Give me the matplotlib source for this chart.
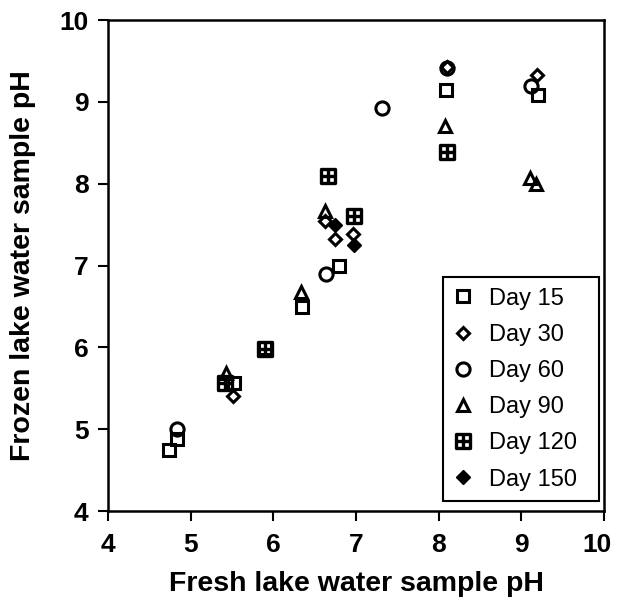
import matplotlib
matplotlib.use("Agg")
import matplotlib.pyplot as plt
from matplotlib.path import Path
from matplotlib.transforms import ScaledTranslation

plt.rcParams['font.family'] = ['Liberation Sans', 'DejaVu Sans']

# fresh pH (x) vs frozen pH (y)
day15_x = [4.74, 4.84, 5.53, 5.90, 6.35, 6.79, 8.09, 9.20]
day15_y = [4.75, 4.88, 5.56, 5.99, 6.49, 6.99, 9.15, 9.08]

day30_x = [5.51, 6.63, 6.74, 6.96, 8.10, 9.19]
day30_y = [5.41, 7.55, 7.33, 7.39, 9.43, 9.33]

day60_x = [4.83, 6.64, 7.32, 8.10, 9.12]
day60_y = [5.00, 6.90, 8.93, 9.41, 9.19]

day90_x = [5.43, 6.34, 6.63, 8.08, 9.10, 9.18]
day90_y = [5.69, 6.68, 7.67, 8.71, 8.07, 8.00]

day120_x = [5.42, 5.90, 6.66, 6.97, 8.10]
day120_y = [5.57, 5.98, 8.09, 7.60, 8.39]

day150_x = [6.75, 6.97]
day150_y = [7.49, 7.25]

ticks = [4, 5, 6, 7, 8, 9, 10]

# square with a cross in it
M, L, C = Path.MOVETO, Path.LINETO, Path.CLOSEPOLY
boxcross = Path(
    [(-1, -1), (1, -1), (1, 1), (-1, 1), (-1, -1),
     (-1, 0), (1, 0), (0, -1), (0, 1)],
    [M, L, L, L, C, M, L, M, L])

fig = plt.figure(figsize=(6.19, 6.00), dpi=100)
ax = fig.add_axes([0.1745, 0.1483, 0.8013, 0.8183])

kw = dict(linestyle='none', color='black', markeredgecolor='black')
ax.plot(day15_x, day15_y, marker='s', markersize=9, mfc='none', mew=2.2, label='Day 15', **kw)
ax.plot(day30_x, day30_y, marker='D', markersize=6, mfc='none', mew=2.2, label='Day 30', **kw)
ax.plot(day60_x, day60_y, marker='o', markersize=9.5, mfc='none', mew=2.2, label='Day 60', **kw)
ax.plot(day90_x, day90_y, marker='^', markersize=9, mfc='none', mew=2.2, label='Day 90', **kw)
ax.plot(day120_x, day120_y, marker=boxcross, markersize=9.5, mfc='none', mew=2.4, label='Day 120', **kw)
ax.plot(day150_x, day150_y, marker='D', markersize=7, mfc='black', mew=1.0, label='Day 150', **kw)

ax.set_xlim(4, 10)
ax.set_ylim(4, 10)
ax.set_xticks(ticks)
ax.set_yticks(ticks)
ax.set_xticklabels([str(t) for t in ticks], fontsize=19, fontweight='bold')
ax.set_yticklabels([str(t) for t in ticks], fontsize=19, fontweight='bold')
ax.tick_params(axis='x', direction='out', length=7, width=1.5, pad=9)
ax.tick_params(axis='y', direction='out', length=7, width=1.5, pad=7)
for s in ax.spines.values():
    s.set_linewidth(1.8)

# nudge the last x label so it stays on the canvas
last = ax.get_xticklabels()[-1]
last.set_transform(last.get_transform() + ScaledTranslation(-5 / 72, 0, fig.dpi_scale_trans))

ax.set_xlabel('Fresh lake water sample pH', fontsize=20.5, fontweight='bold', labelpad=10)
ax.set_ylabel('Frozen lake water sample pH', fontsize=20.5, fontweight='bold', labelpad=17)

leg = ax.legend(loc='lower left', bbox_to_anchor=(0.675, 0.02, 0.315, 0.46), mode='expand',
                fontsize=17, frameon=True, fancybox=False,
                edgecolor='black', framealpha=1, labelspacing=0.6,
                handletextpad=0.7, handlelength=0.8, borderaxespad=0,
                borderpad=0.45)
leg.get_frame().set_linewidth(1.5)

fig.savefig('out.png', dpi=100)
